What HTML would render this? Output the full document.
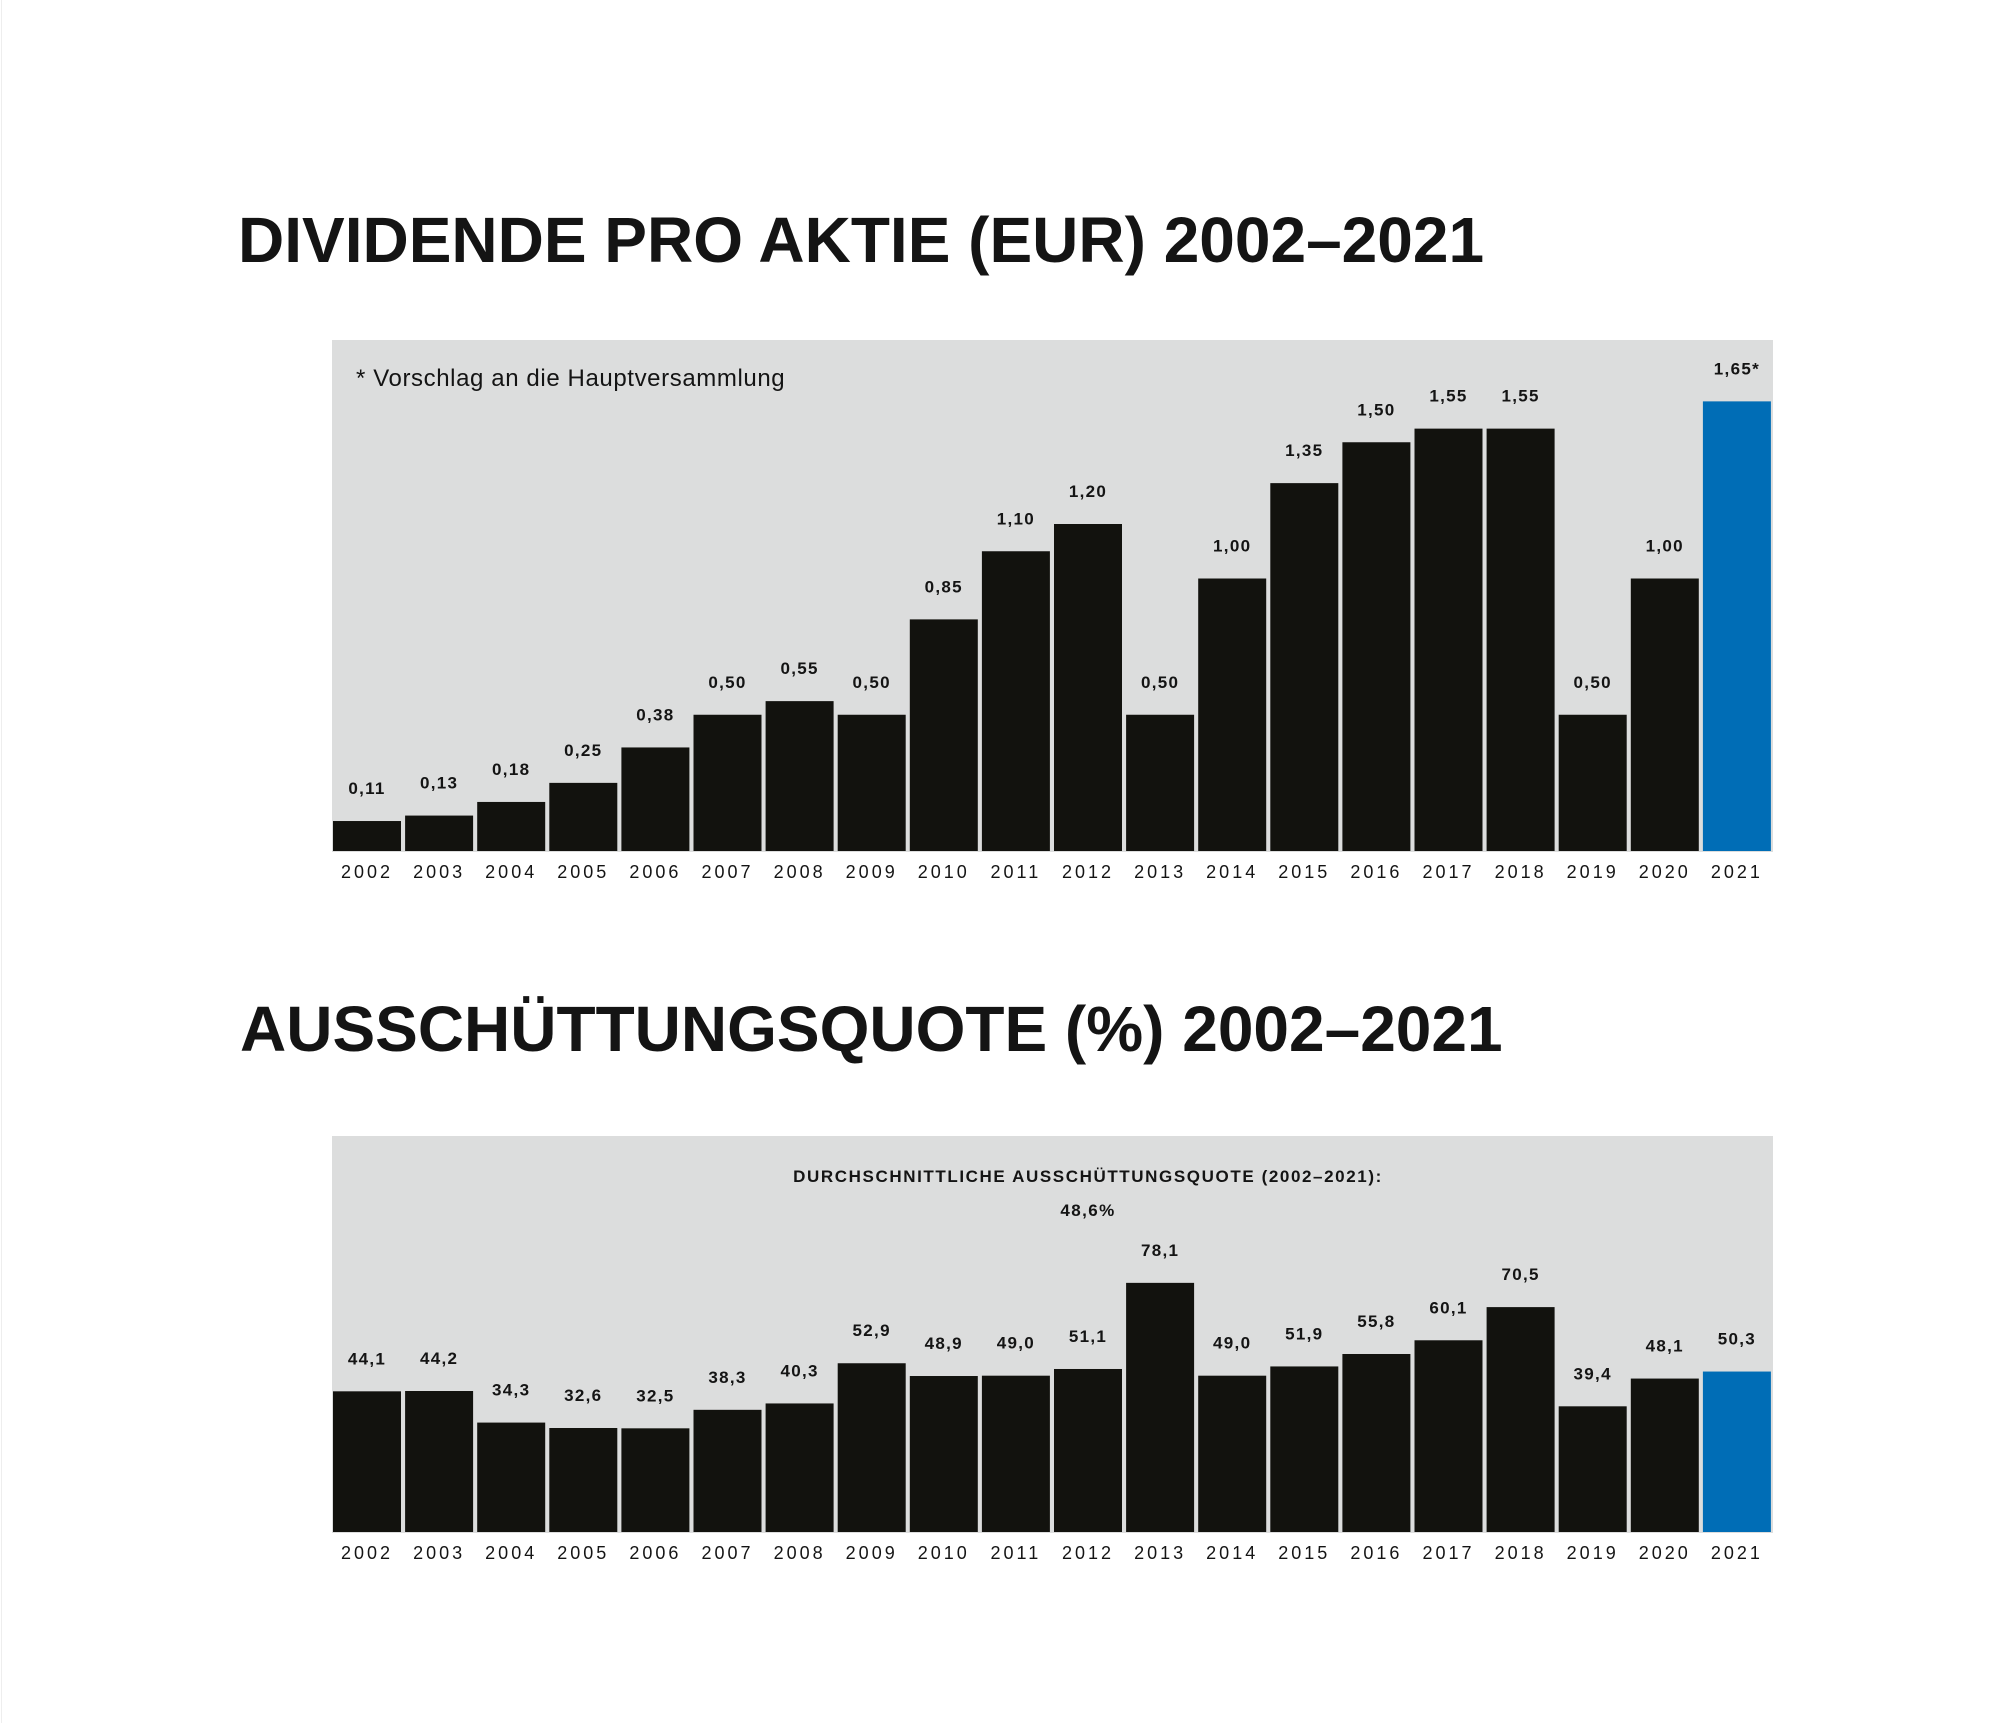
<!DOCTYPE html>
<html><head><meta charset="utf-8"><style>
html,body{margin:0;padding:0;background:#fff;width:2000px;height:1723px;overflow:hidden}
svg{display:block}
text{font-family:"Liberation Sans",sans-serif}
</style></head><body>
<svg id="svg" width="2000" height="1723" viewBox="0 0 2000 1723">
<rect x="0" y="0" width="2000" height="1723" fill="#fff"/>
<line x1="1.5" y1="0" x2="1.5" y2="1723" stroke="#eee"/>
<text x="238" y="262" font-size="64" font-weight="bold" fill="#141414">DIVIDENDE PRO AKTIE (EUR) 2002–2021</text>
<rect x="332" y="340" width="1441" height="512" fill="#dcdddd"/>
<text x="356" y="386" font-size="24" fill="#141414" letter-spacing="0.6">* Vorschlag an die Hauptversammlung</text>
<g id="c1"></g>
<text x="240" y="1051" font-size="64" font-weight="bold" fill="#141414">AUSSCHÜTTUNGSQUOTE (%) 2002–2021</text>
<rect x="332" y="1136" width="1441" height="397" fill="#dcdddd"/>
<text x="1088" y="1182" font-size="17" font-weight="bold" fill="#141414" text-anchor="middle" letter-spacing="1.6">DURCHSCHNITTLICHE AUSSCHÜTTUNGSQUOTE (2002–2021):</text>
<text x="1088" y="1216" font-size="17" font-weight="bold" fill="#141414" text-anchor="middle" letter-spacing="1.4">48,6%</text>
<g id="c2"></g>
</svg>
<script>
const years = ["2002","2003","2004","2005","2006","2007","2008","2009","2010","2011","2012","2013","2014","2015","2016","2017","2018","2019","2020","2021"];
const dividends = [0.11,0.13,0.18,0.25,0.38,0.50,0.55,0.50,0.85,1.10,1.20,0.50,1.00,1.35,1.50,1.55,1.55,0.50,1.00,1.65];
const dividendLabels = ["0,11","0,13","0,18","0,25","0,38","0,50","0,55","0,50","0,85","1,10","1,20","0,50","1,00","1,35","1,50","1,55","1,55","0,50","1,00","1,65*"];
const payout = [44.1,44.2,34.3,32.6,32.5,38.3,40.3,52.9,48.9,49.0,51.1,78.1,49.0,51.9,55.8,60.1,70.5,39.4,48.1,50.3];
const payoutLabels = ["44,1","44,2","34,3","32,6","32,5","38,3","40,3","52,9","48,9","49,0","51,1","78,1","49,0","51,9","55,8","60,1","70,5","39,4","48,1","50,3"];
const NS="http://www.w3.org/2000/svg";
function mk(tag,attrs,parent){const e=document.createElementNS(NS,tag);for(const k in attrs)e.setAttribute(k,attrs[k]);parent.appendChild(e);return e;}
function xPos(i){return 333+i*72.1;}
function draw(gid,vals,labels,base,pxPerUnit,yearY,prefix){
  const g=document.getElementById(gid);
  vals.forEach((v,i)=>{
    const h=v*pxPerUnit, x=xPos(i), last=i===vals.length-1;
    const r=mk('rect',{x:x,y:base-h,width:68,height:h,fill:last?'#006db6':'#12120e'},g);
    
    
    const t=mk('text',{x:x+34,y:base-h-27,'font-size':17,'font-weight':'bold',fill:'#141414','text-anchor':'middle','letter-spacing':1.3},g);
    t.textContent=labels[i];
    
    
    const y=mk('text',{x:x+34,y:yearY,'font-size':18,fill:'#141414','text-anchor':'middle','letter-spacing':3},g);
    y.textContent=years[i];
    
    
  });
}
draw('c1',dividends,dividendLabels,851,272.5,878,'dividend');
draw('c2',payout,payoutLabels,1532,3.19,1559,'payout');
</script>
</body></html>
